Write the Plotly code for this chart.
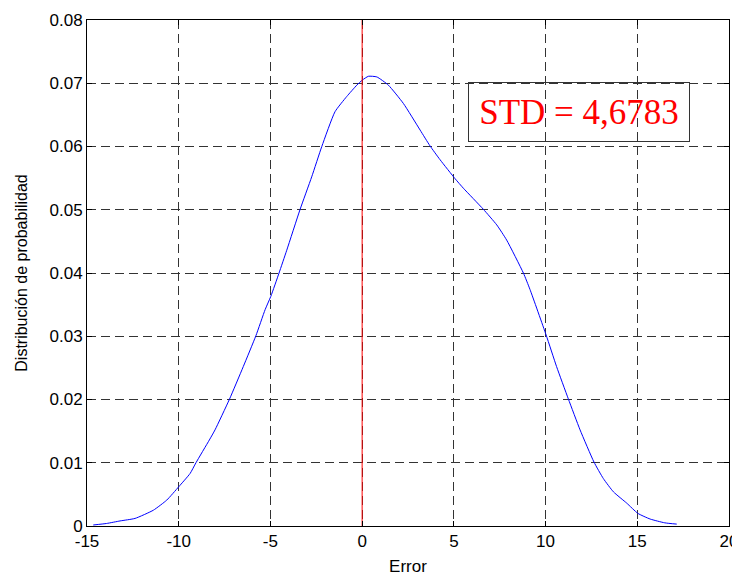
import plotly.graph_objects as go

# Kernel density estimate of the error
error_x = [-14.66, -13.93, -13.2, -12.38, -11.38, -10.65, -10.0, -9.38, -9.06, -8.33, -8.02,
           -7.24, -6.48, -5.79, -5.29, -4.98, -4.53, -4.11, -3.39, -2.75, -2.2, -1.48, -0.84,
           -0.29, 0.01, 0.34, 0.8, 1.43, 2.25, 3.16, 3.7, 4.25, 5.07, 5.52, 6.6, 7.34, 7.88,
           8.79, 9.15, 10.03, 10.6, 11.24, 11.88, 12.64, 13.15, 13.7, 14.43, 15.03, 15.7,
           16.5, 17.15]
density_y = [0.00016, 0.0004, 0.0008, 0.0012, 0.0025, 0.0041, 0.0062, 0.0083, 0.010, 0.0136,
             0.0152, 0.020, 0.0252, 0.0301, 0.0342, 0.0363, 0.040, 0.0436, 0.050, 0.0552,
             0.060, 0.0655, 0.0679, 0.0697, 0.0705, 0.0711, 0.0710, 0.0697, 0.0668, 0.0626,
             0.0601, 0.0579, 0.0549, 0.0534, 0.0501, 0.0476, 0.0452, 0.040, 0.0374, 0.0302,
             0.0252, 0.0201, 0.0152, 0.0101, 0.0075, 0.0054, 0.0036, 0.002, 0.0011, 0.0005,
             0.0003]

zero_line_x = [0, 0]
zero_line_y = [-0.0008, 0.08]

x_ticks = [-15, -10, -5, 0, 5, 10, 15, 20]
y_ticks = [0, 0.01, 0.02, 0.03, 0.04, 0.05, 0.06, 0.07, 0.08]
y_tick_labels = ["0", "0.01", "0.02", "0.03", "0.04", "0.05", "0.06", "0.07", "0.08"]

std_text = "STD = 4,6783"

fig = go.Figure()
fig.add_trace(go.Scatter(x=error_x, y=density_y, mode="lines",
                         line=dict(color="#0000ff", width=1, shape="spline", smoothing=0.5),
                         showlegend=False, hoverinfo="skip"))
fig.add_trace(go.Scatter(x=zero_line_x, y=zero_line_y, mode="lines",
                         line=dict(color="#ff0000", width=1),
                         showlegend=False, hoverinfo="skip", cliponaxis=False))

axis_common = dict(
    showline=True, linecolor="black", linewidth=1, mirror="ticks",
    ticks="inside", ticklen=5, tickcolor="black",
    showgrid=True, gridcolor="#333333", gridwidth=1, griddash="9px,5px",
    zeroline=False, automargin=False,
    tickfont=dict(family="Liberation Sans, Arial, sans-serif", size=17, color="black"),
)

fig.update_xaxes(range=[-15, 20], tickvals=x_ticks, ticktext=[str(v) for v in x_ticks],
                 title=dict(text="Error", standoff=9,
                            font=dict(family="Liberation Sans, Arial, sans-serif", size=17, color="black")),
                 **axis_common)
fig.update_yaxes(range=[0, 0.08], tickvals=y_ticks, ticktext=y_tick_labels,
                 title=dict(text="Distribución de probabilidad", standoff=17,
                            font=dict(family="Liberation Sans, Arial, sans-serif", size=16, color="black")),
                 **axis_common)

fig.add_annotation(text=std_text, xref="paper", yref="paper", x=0.767, y=0.818,
                   xanchor="center", yanchor="middle", showarrow=False,
                   width=220, height=58, borderpad=0, borderwidth=1, bordercolor="#333333",
                   align="center", valign="middle",
                   font=dict(family="Liberation Serif, Times New Roman, serif", size=35, color="#ff0000"))

# The page body adds an 8px offset, so the figure is sized to fit the window
fig.update_layout(
    width=732, height=569,
    margin=dict(l=79, r=11, t=12, b=51),
    paper_bgcolor="white", plot_bgcolor="white",
    showlegend=False,
)

fig.write_html("out.html")
